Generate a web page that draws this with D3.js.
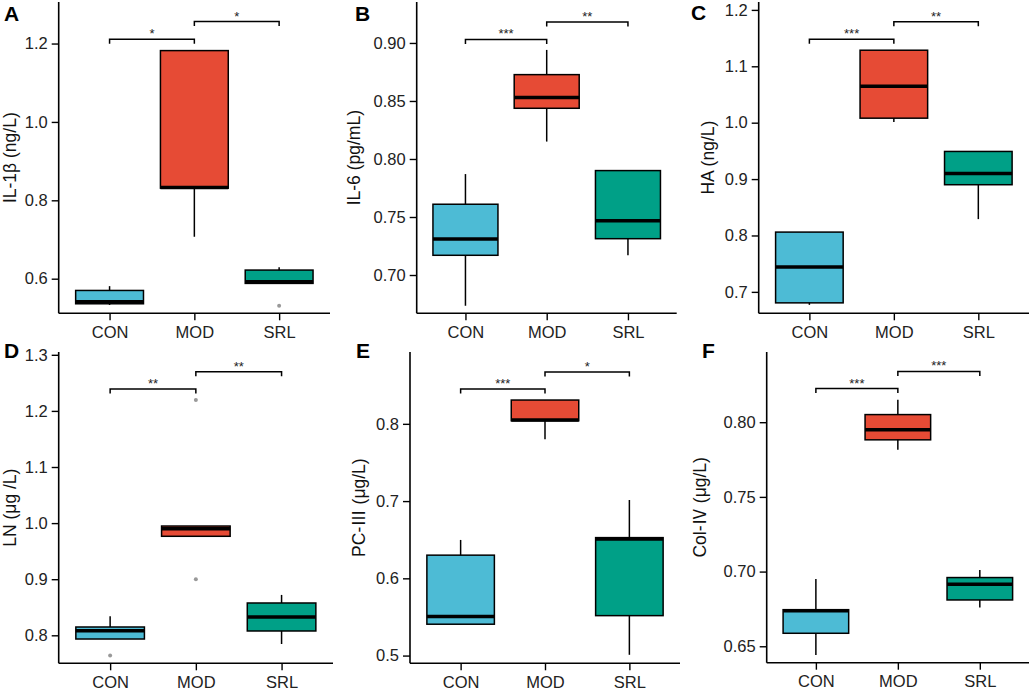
<!DOCTYPE html>
<html>
<head>
<meta charset="utf-8">
<script src="https://cdn.jsdelivr.net/npm/d3@7"></script>
<style>
  body { margin: 0; background: #fff; }
  text { font-family: "Liberation Sans", Arial, sans-serif; }
</style>
</head>
<body>
<script>
// groups
var categories = ["CON", "MOD", "SRL"];
var colours = ["#4DBBD5", "#E64B35", "#00A087"];

// five number summaries per group: [min, q1, median, q3, max]
var il1bBox = [[0.533, 0.536, 0.541, 0.570, 0.581], [0.707, 0.831, 0.833, 1.182, 1.182], [0.588, 0.588, 0.592, 0.622, 0.629]];
var il6Box  = [[0.6735, 0.717, 0.731, 0.761, 0.787], [0.815, 0.8437, 0.853, 0.8727, 0.894], [0.717, 0.7313, 0.7468, 0.790, 0.790]];
var haBox   = [[0.677, 0.6805, 0.744, 0.806, 0.806], [1.001, 1.008, 1.0647, 1.1285, 1.1285], [0.829, 0.890, 0.910, 0.949, 0.949]];
var lnBox   = [[0.7934, 0.7934, 0.808, 0.8148, 0.834], [0.9765, 0.9765, 0.990, 0.9948, 0.9948], [0.7845, 0.8077, 0.8326, 0.8576, 0.872]];
var pc3Box  = [[0.5406, 0.5406, 0.5505, 0.630, 0.6497], [0.780, 0.804, 0.8049, 0.8308, 0.8308], [0.501, 0.5517, 0.651, 0.6527, 0.7014]];
var col4Box = [[0.6442, 0.6587, 0.6737, 0.6745, 0.695], [0.7815, 0.7882, 0.7949, 0.8051, 0.815], [0.676, 0.681, 0.6915, 0.696, 0.7011]];

// outliers per group
var il1bOut = [[], [], [0.531]];
var il6Out  = [[], [], []];
var haOut   = [[], [], []];
var lnOut   = [[0.764], [1.2195, 0.900], []];
var pc3Out  = [[], [], []];
var col4Out = [[], [], []];

// significance brackets: [from, to, label, height]
var il1bSig = [[0, 1, "*", 1.211], [1, 2, "*", 1.256]];
var il6Sig  = [[0, 1, "***", 0.903], [1, 2, "**", 0.918]];
var haSig   = [[0, 1, "***", 1.148], [1, 2, "**", 1.179]];
var lnSig   = [[0, 1, "**", 1.239], [1, 2, "**", 1.270]];
var pc3Sig  = [[0, 1, "***", 0.845], [1, 2, "*", 0.867]];
var col4Sig = [[0, 1, "***", 0.8225], [1, 2, "***", 0.834]];

// y tick labels
var il1bTicks = [0.6, 0.8, 1.0, 1.2];
var il6Ticks  = [0.70, 0.75, 0.80, 0.85, 0.90];
var haTicks   = [0.7, 0.8, 0.9, 1.0, 1.1, 1.2];
var lnTicks   = [0.8, 0.9, 1.0, 1.1, 1.2, 1.3];
var pc3Ticks  = [0.5, 0.6, 0.7, 0.8];
var col4Ticks = [0.65, 0.70, 0.75, 0.80];

var panels = [
  {tag: "A", title: "IL-1β (ng/L)", box: il1bBox, out: il1bOut, sig: il1bSig, ticks: il1bTicks, dom: [0.5117, 1.306], fmt: ".1f",
   x0: 58.7, x1: 330, y0: 2, y1: 313.3, tx: 16, lx: 4, ly: 21},
  {tag: "B", title: "IL-6 (pg/mL)", box: il6Box, out: il6Out, sig: il6Sig, ticks: il6Ticks, dom: [0.667, 0.9353], fmt: ".2f",
   x0: 416.7, x1: 676.7, y0: 2, y1: 313.3, tx: 360, lx: 355, ly: 21},
  {tag: "C", title: "HA (ng/L)", box: haBox, out: haOut, sig: haSig, ticks: haTicks, dom: [0.662, 1.214], fmt: ".1f",
   x0: 758.7, x1: 1029, y0: 2, y1: 313.3, tx: 714, lx: 691, ly: 20},
  {tag: "D", title: "LN (μg /L)", box: lnBox, out: lnOut, sig: lnSig, ticks: lnTicks, dom: [0.7501, 1.305], fmt: ".1f",
   x0: 58.7, x1: 333, y0: 352, y1: 663.3, tx: 16, lx: 4, ly: 358},
  {tag: "E", title: "PC-Ⅲ (μg/L)", box: pc3Box, out: pc3Out, sig: pc3Sig, ticks: pc3Ticks, dom: [0.490, 0.893], fmt: ".1f",
   x0: 410, x1: 680, y0: 352, y1: 663.3, tx: 365, lx: 356, ly: 358},
  {tag: "F", title: "Col-Ⅳ (μg/L)", box: col4Box, out: col4Out, sig: col4Sig, ticks: col4Ticks, dom: [0.639, 0.847], fmt: ".2f",
   x0: 766.7, x1: 1029, y0: 352, y1: 662.7, tx: 706, lx: 702, ly: 358}
];

var svg = d3.select("body").append("svg")
  .attr("width", 1031)
  .attr("height", 691);

panels.forEach(function(p) {
  var x = d3.scalePoint().domain(categories).range([p.x0, p.x1]).padding(0.6);
  var y = d3.scaleLinear().domain(p.dom).range([p.y1, p.y0]);
  var bw = x.step() * 0.8;
  var g = svg.append("g");

  // axes
  var yAxis = g.append("g").attr("transform", "translate(" + p.x0 + ",0)")
    .call(d3.axisLeft(y).tickValues(p.ticks).tickFormat(d3.format(p.fmt)).tickSize(7).tickPadding(4));
  var xAxis = g.append("g").attr("transform", "translate(0," + p.y1 + ")")
    .call(d3.axisBottom(x).tickSize(7).tickPadding(6));
  [yAxis, xAxis].forEach(function(a) {
    a.select(".domain").attr("stroke", "#000").attr("stroke-width", 1.6);
    a.selectAll(".tick line").attr("stroke", "#000").attr("stroke-width", 1.4);
    a.selectAll(".tick text").attr("fill", "#222").style("font-size", "16.5px")
      .style("font-family", "'Liberation Sans', Arial, sans-serif");
  });
  yAxis.select(".domain").attr("d", "M0," + p.y0 + "V" + p.y1);
  xAxis.select(".domain").attr("d", "M" + p.x0 + ",0H" + p.x1);

  // boxes
  var grp = g.selectAll(".grp").data(p.box).enter().append("g");
  grp.append("line")
    .attr("x1", function(d, i) { return x(categories[i]); })
    .attr("x2", function(d, i) { return x(categories[i]); })
    .attr("y1", function(d) { return y(d[0]); })
    .attr("y2", function(d) { return y(d[4]); })
    .attr("stroke", "#000").attr("stroke-width", 1.5);
  grp.append("rect")
    .attr("x", function(d, i) { return x(categories[i]) - bw / 2; })
    .attr("width", bw)
    .attr("y", function(d) { return y(d[3]); })
    .attr("height", function(d) { return y(d[1]) - y(d[3]); })
    .attr("fill", function(d, i) { return colours[i]; })
    .attr("stroke", "#000").attr("stroke-width", 1.5);
  grp.append("line")
    .attr("x1", function(d, i) { return x(categories[i]) - bw / 2; })
    .attr("x2", function(d, i) { return x(categories[i]) + bw / 2; })
    .attr("y1", function(d) { return y(d[2]); })
    .attr("y2", function(d) { return y(d[2]); })
    .attr("stroke", "#000").attr("stroke-width", 3.5);

  // outliers
  p.out.forEach(function(list, i) {
    g.selectAll(null).data(list).enter().append("circle")
      .attr("cx", x(categories[i]))
      .attr("cy", function(d) { return y(d); })
      .attr("r", 2)
      .attr("fill", "#999");
  });

  // significance
  p.sig.forEach(function(s) {
    var xa = x(categories[s[0]]), xb = x(categories[s[1]]), yy = y(s[3]);
    g.append("path")
      .attr("d", "M" + xa + "," + (yy + 4.5) + "V" + yy + "H" + xb + "V" + (yy + 4.5))
      .attr("fill", "none").attr("stroke", "#000").attr("stroke-width", 1.5);
    g.append("text")
      .attr("x", (xa + xb) / 2).attr("y", yy - 1)
      .attr("text-anchor", "middle").style("font-size", "13px").attr("fill", "#222")
      .text(s[2]);
  });

  // axis title
  g.append("text")
    .attr("transform", "translate(" + p.tx + "," + ((p.y0 + p.y1) / 2) + ") rotate(-90)")
    .attr("text-anchor", "middle").style("font-size", "17.5px").attr("fill", "#111")
    .style("font-family", "'Liberation Sans', 'Noto Sans CJK SC', Arial, sans-serif")
    .text(p.title);

  // panel tag
  g.append("text")
    .attr("x", p.lx).attr("y", p.ly)
    .style("font-size", "21px").style("font-weight", "bold").attr("fill", "#000")
    .text(p.tag);
});
</script>
</body>
</html>
